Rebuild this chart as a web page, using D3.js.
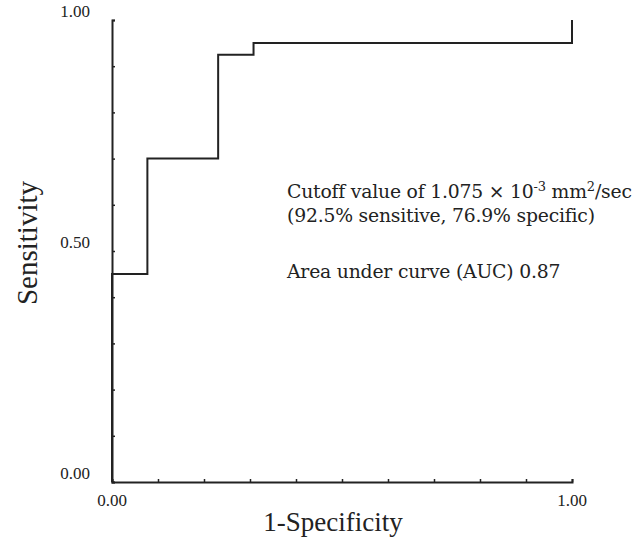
<!DOCTYPE html>
<html>
<head>
<meta charset="utf-8">
<script src="https://cdn.jsdelivr.net/npm/d3@7.9.0/dist/d3.min.js"></script>
<style>
  body { margin: 0; background: #fff; }
  svg { display: block; font-family: "Liberation Serif", "DejaVu Serif", serif; }
</style>
</head>
<body>
<svg width="643" height="541"></svg>
<script>
// ROC curve points (1-specificity, sensitivity)
const fpr = [0, 0, 1/13, 1/13, 3/13, 3/13, 4/13, 4/13, 1, 1];
const tpr = [0, 0.45, 0.45, 0.70, 0.70, 0.925, 0.925, 0.95, 0.95, 1.0];
const minorTicks = [0, 0.1, 0.2, 0.3, 0.4, 0.5, 0.6, 0.7, 0.8, 0.9, 1.0];
const yLabels = [0, 0.5, 1];
const xLabels = [0, 1];
const notes = [
  "Cutoff value of 1.075 × 10<tspan baseline-shift='super' font-size='13'>-3</tspan> mm<tspan baseline-shift='super' font-size='13'>2</tspan>/sec",
  "(92.5% sensitive, 76.9% specific)",
  "Area under curve (AUC) 0.87"
];

const svg = d3.select('svg');
const x = d3.scaleLinear().domain([0, 1]).range([112, 572]);
const y = d3.scaleLinear().domain([0, 1]).range([482, 20]);
const ink = '#222';

// axes with small inside ticks
const gx = svg.append('g').attr('transform', `translate(0,${y(0)})`)
  .call(d3.axisBottom(x).tickValues(minorTicks).tickSize(-3).tickFormat(''));
const gy = svg.append('g').attr('transform', `translate(${x(0)},0)`)
  .call(d3.axisLeft(y).tickValues(minorTicks).tickSize(-3).tickFormat(''));
[gx, gy].forEach(g => {
  g.select('.domain').attr('stroke', ink).attr('stroke-width', 2);
  g.selectAll('.tick line').attr('stroke', ink).attr('stroke-width', 1.5);
});

// tick labels
svg.selectAll('.ylab').data(yLabels).join('text')
  .attr('x', 90).attr('y', d => y(d) - 3)
  .attr('text-anchor', 'end').attr('font-size', 17).attr('fill', ink)
  .text(d => d3.format('.2f')(d));
svg.selectAll('.xlab').data(xLabels).join('text')
  .attr('x', d => x(d)).attr('y', 506)
  .attr('text-anchor', 'middle').attr('font-size', 17).attr('fill', ink)
  .text(d => d3.format('.2f')(d));

// axis titles
svg.append('text')
  .attr('transform', 'translate(37,243) rotate(-90)')
  .attr('text-anchor', 'middle').attr('font-size', 29).attr('fill', ink)
  .text('Sensitivity');
svg.append('text')
  .attr('x', 333).attr('y', 531)
  .attr('text-anchor', 'middle').attr('font-size', 27).attr('fill', ink)
  .text('1-Specificity');

// ROC step line
const line = d3.line().x(d => x(d[0])).y(d => y(d[1]));
svg.append('path')
  .datum(d3.zip(fpr, tpr))
  .attr('d', line)
  .attr('fill', 'none').attr('stroke', ink).attr('stroke-width', 2);

// annotation (wider serif, tight spacing like the original)
const noteY = [198, 222, 278];
svg.selectAll('.note').data(notes).join('text')
  .attr('x', 287).attr('y', (d, i) => noteY[i])
  .attr('font-family', '"DejaVu Serif", serif')
  .attr('font-size', 18.8).attr('fill', ink)
  .attr('letter-spacing', -0.2)
  .html(d => d);
</script>
</body>
</html>
